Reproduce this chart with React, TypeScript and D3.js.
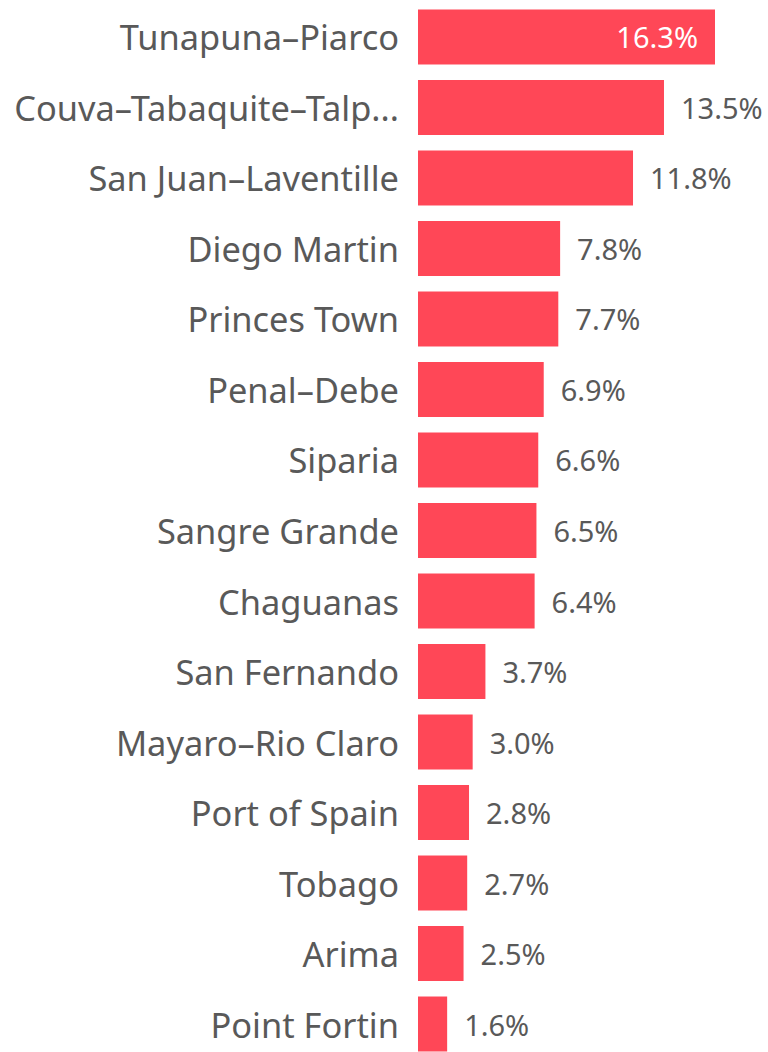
import React from "react";
import * as d3 from "d3";

const categories = [
  "Tunapuna–Piarco",
  "Couva–Tabaquite–Talp...",
  "San Juan–Laventille",
  "Diego Martin",
  "Princes Town",
  "Penal–Debe",
  "Siparia",
  "Sangre Grande",
  "Chaguanas",
  "San Fernando",
  "Mayaro–Rio Claro",
  "Port of Spain",
  "Tobago",
  "Arima",
  "Point Fortin",
];
const values = [16.3, 13.5, 11.8, 7.8, 7.7, 6.9, 6.6, 6.5, 6.4, 3.7, 3.0, 2.8, 2.7, 2.5, 1.6];

const W = 768;
const H = 1052;
const FONT = "'Noto Sans', 'Open Sans', sans-serif";

export default function App() {
  const x = d3.scaleLinear().domain([0, 16.3]).range([418, 715]);
  const y = d3
    .scaleBand<string>()
    .domain(categories)
    .range([9.5, 1051.5])
    .paddingInner(0.22)
    .paddingOuter(0);
  const fmt = (v: number) => v.toFixed(1) + "%";
  return (
    <svg
      width={W}
      height={H}
      style={{ position: "absolute", left: 0, top: 0, background: "#fff" }}
    >
      {categories.map((c, i) => {
        const y0 = y(c)!;
        const cy = y0 + y.bandwidth() / 2;
        const x1 = x(values[i]);
        const inside = i === 0;
        return (
          <g key={c}>
            <text
              x={399}
              y={cy}
              textAnchor="end"
              dominantBaseline="central"
              fontFamily={FONT}
              fontSize={34.4}
              fill="#595959"
            >
              {c}
            </text>
            <rect x={x(0)} y={y0} width={x1 - x(0)} height={y.bandwidth()} fill="#FF4757" />
            <text
              x={inside ? x1 - 17 : x1 + 17}
              y={cy}
              textAnchor={inside ? "end" : "start"}
              dominantBaseline="central"
              fontFamily={FONT}
              fontSize={29}
              fill={inside ? "#ffffff" : "#595959"}
            >
              {fmt(values[i])}
            </text>
          </g>
        );
      })}
    </svg>
  );
}
